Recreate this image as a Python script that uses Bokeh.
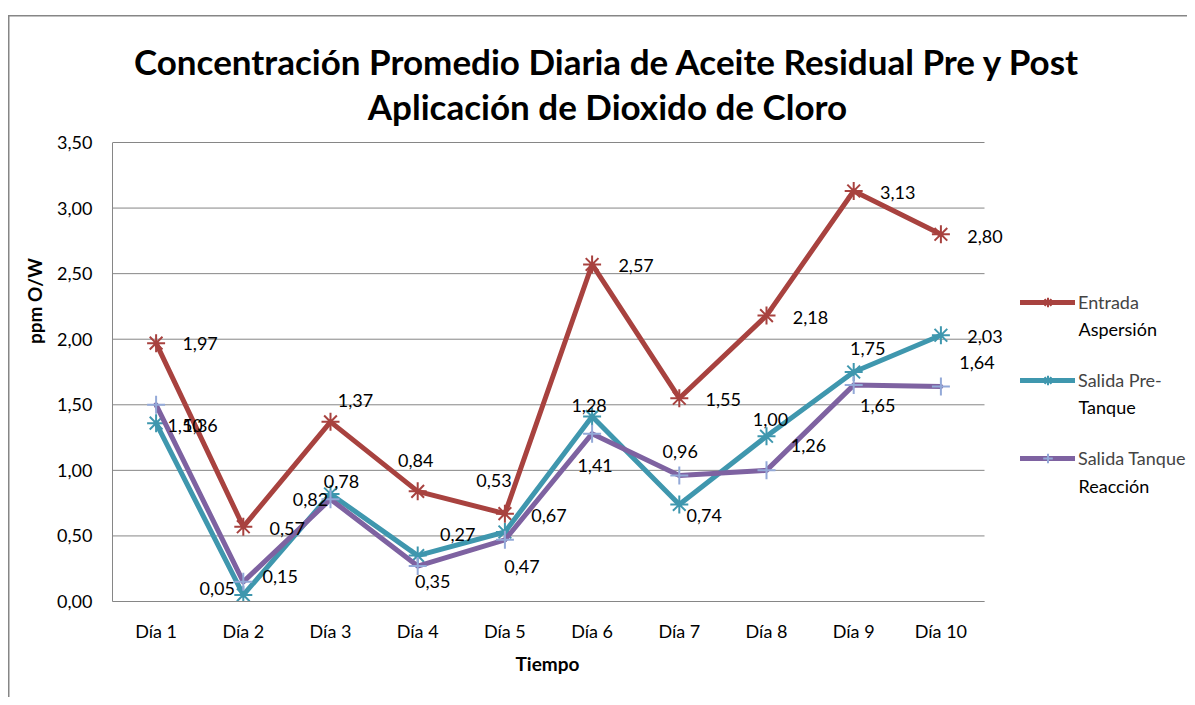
from bokeh.plotting import figure
from bokeh.models import (Range1d, FixedTicker, CustomJSTickFormatter, Legend,
                          LegendItem, Label, Title, ColumnDataSource)
from bokeh.core.properties import value
from bokeh.embed import file_html
from bokeh.resources import INLINE

# ---- data ----
days = ["Día 1", "Día 2", "Día 3", "Día 4", "Día 5", "Día 6", "Día 7", "Día 8", "Día 9", "Día 10"]
entrada = [1.97, 0.57, 1.37, 0.84, 0.67, 2.57, 1.55, 2.18, 3.13, 2.80]
pre_tanque = [1.36, 0.05, 0.82, 0.35, 0.53, 1.41, 0.74, 1.26, 1.75, 2.03]
tanque_reac = [1.50, 0.15, 0.78, 0.27, 0.47, 1.28, 0.96, 1.00, 1.65, 1.64]
yticks = [0, 0.5, 1.0, 1.5, 2.0, 2.5, 3.0, 3.5]
series_names = ["Entrada\nAspersión", "Salida Pre-\nTanque", "Salida Tanque\nReacción"]

# label pixel offsets (style only)
entrada_dx = [44, 44, 25, -2, 44, 44, 44, 44, 44, 44]
entrada_dy = [0, 2, -21, -31, 2, 1, 1, 2, 1, 2]
pre_dx = [44, -26, -20, 15, -11, 3, 25, 42, 14, 44]
pre_dy = [2, -6, 6, 26, -51, 49, 11, 9, -24, 1]
reac_dx = [29, 37, 11, 40, 17, -3, 1, 4, 24, 36]
reac_dy = [21, -5, -18, -32, 27, -28, -24, -51, 20, -24]

RED = "#A8423F"
TEAL = "#3F97AE"
PURPLE = "#7E62A1"
PURPLE_MK = "#93A9D8"
GRID = "#868686"
FONT = "Lato"

# ---- layout (pixels) ----
W, H = 1187, 697
PLOT_L, PLOT_R, PLOT_T, PLOT_B = 112, 984, 142, 601
n = len(days)
ymax = yticks[-1]
px_per_x = (PLOT_R - PLOT_L) / n
px_per_y = (PLOT_B - PLOT_T) / ymax

def X(px):
    return (px - PLOT_L) / px_per_x

def Y(py):
    return (PLOT_B - py) / px_per_y

xs = [i + 0.5 for i in range(n)]

p = figure(x_range=Range1d(0, X(W)), y_range=Range1d(0, Y(0)),
           width=W, height=H, title=None,
           min_border_left=PLOT_L, min_border_right=0, min_border_top=0,
           min_border_bottom=H - PLOT_B,
           toolbar_location=None, output_backend="svg")
p.outline_line_color = None
p.background_fill_color = None
p.border_fill_color = None
p.styles = {
    "background-color": "white",
    "background-image": "linear-gradient(#868686,#868686), linear-gradient(#868686,#868686)",
    "background-size": "1.5px 100%, 100% 1.5px",
    "background-position": "8px 15px, 8px 15px",
    "background-repeat": "no-repeat",
}

p.xgrid.grid_line_color = None
p.ygrid.grid_line_color = None
# horizontal gridlines limited to the plot area
p.segment(x0=0, x1=n, y0=yticks, y1=yticks, line_color=GRID, line_width=1)

p.yaxis.ticker = FixedTicker(ticks=yticks)
p.yaxis.formatter = CustomJSTickFormatter(code="return tick.toFixed(2).replace('.', ',');")
p.yaxis.bounds = (0, ymax)
p.xaxis.ticker = FixedTicker(ticks=xs)
p.xaxis.major_label_overrides = {x: d for x, d in zip(xs, days)}
p.xaxis.bounds = (0, n)
for ax in (p.xaxis[0], p.yaxis[0]):
    ax.axis_line_color = GRID
    ax.axis_line_width = 1
    ax.major_tick_line_color = None
    ax.minor_tick_line_color = None
    ax.major_tick_in = 0
    ax.major_tick_out = 0
    ax.major_label_standoff = 20
    ax.major_label_text_font = FONT
    ax.major_label_text_font_size = "18px"
    ax.major_label_text_color = "black"
    ax.axis_label_text_font = FONT
    ax.axis_label_text_font_style = "bold"
    ax.axis_label_text_font_size = "19px"
    ax.axis_label_text_color = "black"
p.xaxis.major_label_standoff = 18
p.yaxis.axis_label = "ppm O/W"
p.yaxis.axis_label_standoff = 8

# x-axis title centred under the plot area (not under the whole frame)
p.add_layout(Title(text="Tiempo", align="left", offset=515 - PLOT_L,
                   text_font=FONT, text_font_size="19px", text_font_style="bold",
                   text_color="black"), "below")

def fmt(vals):
    return [f"{v:.2f}".replace(".", ",") for v in vals]

series = [
    (entrada, RED, "asterisk", RED, entrada_dx, entrada_dy),
    (pre_tanque, TEAL, "asterisk", TEAL, pre_dx, pre_dy),
    (tanque_reac, PURPLE, "cross", PURPLE_MK, reac_dx, reac_dy),
]
rends = []
for vals, col, mk, mkcol, dx, dy in series:
    src = ColumnDataSource(dict(x=xs, y=vals, t=fmt(vals), dx=dx, dy=dy))
    l = p.line("x", "y", source=src, line_color=col, line_width=5,
               line_join="round", line_cap="round")
    s = p.scatter("x", "y", source=src, marker=mk, size=18, line_color=mkcol, line_width=2)
    rends.append((l, s, src))

for l, s, src in rends:
    p.text("x", "y", text="t", x_offset="dx", y_offset="dy", source=src,
           text_align="center", text_baseline="middle", text_font=value(FONT),
           text_font_size="18px", text_color="black")

GH, SP = 24, 54
legend_h = 3 * GH + 2 * SP
legend = Legend(items=[
    LegendItem(label=name.split("\n")[0], renderers=[r[0], r[1]])
    for name, r in zip(series_names, rends)
], location=(1020 - PLOT_L, PLOT_B - 290 - legend_h), glyph_width=55, glyph_height=GH,
    label_height=GH, spacing=SP, padding=0, margin=0, label_standoff=3,
    border_line_color=None, background_fill_alpha=0,
    label_text_font=FONT, label_text_font_size="18px")
p.add_layout(legend)

for name, py in zip(series_names, (328, 406, 485)):
    p.add_layout(Label(x=X(1078), y=Y(py), text=name.split("\n")[1],
                       text_font=FONT, text_font_size="18px", text_align="left",
                       text_baseline="middle", text_color="black"))

p.add_layout(Label(x=X(607), y=Y(60),
                   text="Concentración Promedio Diaria de Aceite Residual Pre y Post",
                   text_font=FONT, text_font_size="35px", text_font_style="bold",
                   text_align="center", text_baseline="middle", text_color="black"))
p.add_layout(Label(x=X(607), y=Y(105),
                   text="Aplicación de Dioxido de Cloro",
                   text_font=FONT, text_font_size="35px", text_font_style="bold",
                   text_align="center", text_baseline="middle", text_color="black"))

open("out.html", "w").write(file_html(p, INLINE))
